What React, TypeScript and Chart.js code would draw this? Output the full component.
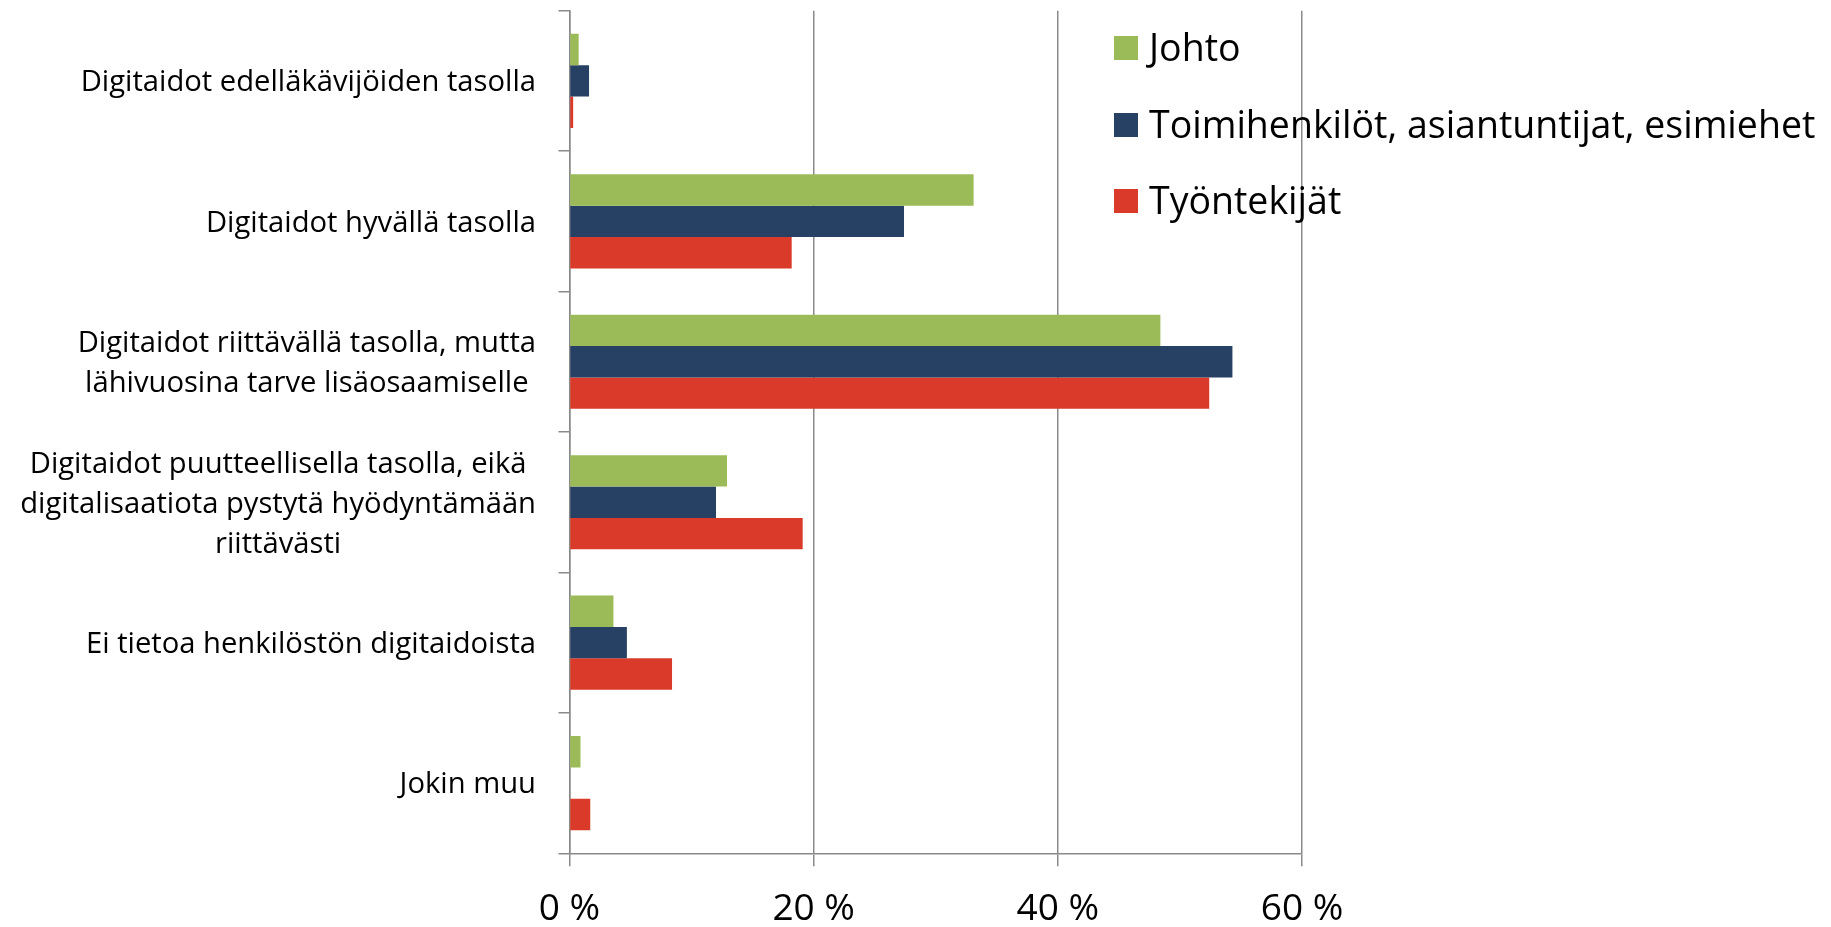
import React, { useEffect, useRef } from "react";
import { Chart, registerables } from "chart.js";

Chart.register(...registerables);

const categories: (string | string[])[] = [
  "Digitaidot edelläkävijöiden tasolla",
  "Digitaidot hyvällä tasolla",
  ["Digitaidot riittävällä tasolla, mutta", "lähivuosina tarve lisäosaamiselle"],
  [
    "Digitaidot puutteellisella tasolla, eikä",
    "digitalisaatiota pystytä hyödyntämään",
    "riittävästi",
  ],
  "Ei tietoa henkilöstön digitaidoista",
  "Jokin muu",
];

const seriesNames = [
  "Johto",
  "Toimihenkilöt, asiantuntijat, esimiehet",
  "Työntekijät",
];
const johto = [0.75, 33.1, 48.4, 12.9, 3.6, 0.9];
const toimihenkilot = [1.6, 27.4, 54.3, 12.0, 4.7, 0];
const tyontekijat = [0.3, 18.2, 52.4, 19.1, 8.4, 1.7];

const xTickValues = [0, 20, 40, 60];
const xTickLabels = ["0 %", "20 %", "40 %", "60 %"];

const colors = ["#9bbb59", "#264163", "#da3a29"];

const FONT = "'Open Sans'";
const CAT_FONT = 29.2;
const LEG_FONT = 37.5;
const TICK_FONT = 37;
const GRID = "#8a8a8a";

const overlayPlugin = {
  id: "overlay",
  afterDraw(chart: any) {
    const ctx = chart.ctx as CanvasRenderingContext2D;
    const yScale = chart.scales.y;
    ctx.save();
    ctx.fillStyle = "#000";
    ctx.font = `${CAT_FONT}px ${FONT}`;
    ctx.textAlign = "center";
    ctx.textBaseline = "middle";
    categories.forEach((lab, i) => {
      const lines = Array.isArray(lab) ? lab : [lab];
      const widest = Math.max(...lines.map((l) => ctx.measureText(l).width));
      const cx = 536 - widest / 2;
      const cy = yScale.getPixelForValue(i) + 2;
      lines.forEach((l, j) => {
        ctx.fillText(l, cx, cy + (j - (lines.length - 1) / 2) * 40);
      });
    });
    // legend
    const legY = [48, 125, 201];
    ctx.textAlign = "left";
    ctx.font = `${LEG_FONT}px ${FONT}`;
    chart.data.datasets.forEach((ds: any, i: number) => {
      ctx.fillStyle = ds.backgroundColor;
      ctx.fillRect(1114, legY[i] - 12, 24, 24);
      ctx.fillStyle = "#000";
      ctx.fillText(ds.label, 1149, legY[i] + 2);
    });
    ctx.restore();
  },
};

export default function App() {
  const ref = useRef<HTMLCanvasElement>(null);
  useEffect(() => {
    if (!ref.current) return;
    const chart = new Chart(ref.current, {
      type: "bar",
      data: {
        labels: categories.map((c) => (Array.isArray(c) ? c.join(" ") : c)),
        datasets: [
          { label: seriesNames[0], data: johto, backgroundColor: colors[0] },
          { label: seriesNames[1], data: toimihenkilot, backgroundColor: colors[1] },
          { label: seriesNames[2], data: tyontekijat, backgroundColor: colors[2] },
        ],
      },
      options: {
        indexAxis: "y",
        responsive: false,
        animation: false,
        layout: { padding: { top: 10.7, right: 1831 - 1302, left: 0, bottom: 0 } },
        datasets: { bar: { categoryPercentage: 0.67, barPercentage: 1 } },
        plugins: { legend: { display: false }, tooltip: { enabled: false } },
        scales: {
          x: {
            min: 0,
            max: 60,
            afterBuildTicks: (scale: any) => {
              scale.ticks = xTickValues.map((v) => ({ value: v }));
            },
            afterFit: (scale: any) => {
              scale.height = 927 - 853.3;
            },
            ticks: {
              callback: (v: any) => xTickLabels[xTickValues.indexOf(Number(v))] ?? "",
              font: { family: "Open Sans", size: TICK_FONT },
              color: "#000",
              padding: 21,
              maxRotation: 0,
            },
            grid: { color: GRID, lineWidth: 1.5, drawTicks: true, tickLength: 13 },
            border: { display: true, color: GRID, width: 1.5 },
          },
          y: {
            afterFit: (scale: any) => {
              scale.width = 569.5;
            },
            ticks: { display: false },
            grid: {
              offset: true,
              drawOnChartArea: false,
              drawTicks: true,
              tickLength: 11,
              color: GRID,
              lineWidth: 1.5,
            },
            border: { display: true, color: GRID, width: 1.5 },
          },
        },
      },
      plugins: [overlayPlugin],
    } as any);
    return () => chart.destroy();
  }, []);
  return (
    <div style={{ position: "absolute", left: 0, top: 0, width: 1831, height: 927, background: "#fff" }}>
      <canvas ref={ref} width={1831} height={927} style={{ display: "block" }} />
    </div>
  );
}
